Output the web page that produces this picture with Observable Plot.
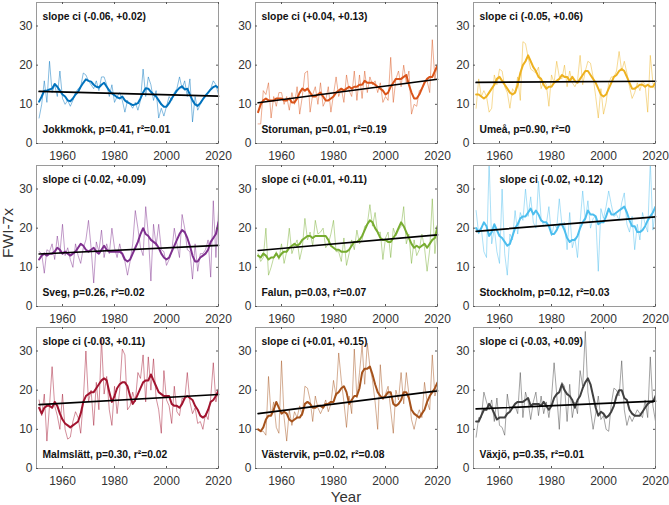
<!DOCTYPE html>
<html><head><meta charset="utf-8">
<script src="https://cdn.jsdelivr.net/npm/d3@7"></script>
<script src="https://cdn.jsdelivr.net/npm/@observablehq/plot@0.6"></script>
<style>
body{margin:0;background:#fff}
#wrap{position:relative;width:669px;height:505px;font-family:"Liberation Sans",Arial,sans-serif;overflow:hidden}
.panel{position:absolute}
#ylab{position:absolute;left:8px;top:233px;transform:translate(-50%,-50%) rotate(-90deg);font-size:15.5px;line-height:1;color:#333;white-space:nowrap}
#xlab{position:absolute;left:346px;top:496px;transform:translate(-50%,-50%);font-size:15px;line-height:1;color:#333}
</style></head>
<body><div id="wrap"><div id="ylab">FWI-7x</div><div id="xlab">Year</div></div>
<script>
const years = d3.range(1951, 2021);
const xTicks = [1960, 1980, 2000, 2020];
const yTicks = [0, 10, 20, 30];
const stations = ["Jokkmokk","Storuman","Umeå","Sveg","Falun","Stockholm","Malmslätt","Västervik","Växjö"];
const slopeCI = ["(-0.06, +0.02)","(+0.04, +0.13)","(-0.05, +0.06)","(-0.02, +0.09)","(+0.01, +0.11)","(-0.02, +0.12)","(-0.03, +0.11)","(+0.01, +0.15)","(-0.03, +0.09)"];
const pValues = ["0.41","0.01","0.90","0.26","0.03","0.12","0.30","0.02","0.35"];
const r2Values = ["0.01","0.19","0","0.02","0.07","0.03","0.02","0.08","0.01"];
const colors = ["#0072BD","#D95319","#EDB120","#7E2F8E","#77AC30","#4DBEEE","#A2142F","#A5521B","#404040"];
const trendStart = [13.3,10.4,15.6,13.4,14.3,19.2,16.3,14.0,15.2];
const trendEnd   = [12.1,16.4,15.9,15.6,18.3,22.9,18.9,19.8,17.2];

const jokkmokkAnnual = [6.5,10,16,10.5,21,13,15,12,18.5,11.5, 10,11,9.5,11,13,14,14.5,18,17.5,16, 15,14,16,13.5,17,17,15,12,15,10.5, 12,13,11,8,11,10,9,10.5,8.5,11, 19,12,17,15,11,13.5,6.5,9,7,9.5, 12,11,13,14,17,14,16,12,16.5,5.5, 12,8.5,10,11.5,12,13,14,16,15,12.5];
const jokkmokkSmooth = [10.7,12,13.5,13.5,13.8,14,15.2,14.5,13.5,12.5, 12,11,10.8,11.5,12.5,13.2,14.5,15.5,16.4,16, 15.8,15,14.5,14.3,15,15.5,14.5,13.5,12.8,12.3, 11.8,11.5,12,11,10.5,10.2,9.8,10,10.3,11.5, 13,14.1,14,13.2,12.5,12,11,10,9.4,9.4, 10.3,11.5,12.5,13.5,14.2,14.6,13.8,14,12.5,11, 10,9.6,10.3,11.3,12.2,13,13.8,14.4,14.7,14.2];
const storumanAnnual = [5,5,13.5,12.5,15.5,6.5,12,9.5,13,13, 10,12,8.5,13,10,14.5,7.5,12,18,18.5, 8,12.5,14.5,10,15.5,9.5,11,14.5,8,12.5, 17,12,14,10.5,17.5,13.5,12,18.5,11,17.5, 11.5,18.5,13,17,15,16,13,15.5,10.5,12, 11,22,10.5,16.5,18.5,14.5,20,15.5,18.5,7.5, 10,9.5,13.5,14,16,16,13,26.5,16.5,20.5];
const storumanSmooth = [8,10,11,11.5,11,11,11,11.5,11.5,11.5, 11,11,11.5,10.5,10.5,11.5,13,14,13.5,14, 13,12,12,12.5,13,12,11,11,11.5,12, 13,13.5,14,13.5,14,14.5,14,14.5,14.5,15, 15,16,15.5,15.5,15.5,15,14.5,14,13.5,12.5, 13,14.5,15.5,16.5,16.5,16.5,17,17.5,15,13, 11.5,11.5,12.5,14,15.5,16.5,17,17,18.5,20];
const umeaAnnual = [9,16.5,12,13.5,12,8,9,17.5,15,19, 18.5,14.5,13,9,14,13,17,11,26,25.5, 22,19,18.5,18,19.5,14,16,15,9.5,17.5, 15.5,21,17,16.5,20,14.5,18.5,15.5,14.5,16, 22.5,15,18.5,21,20.5,17,12,6.5,14,7.5, 10.5,15.5,17,17,18.5,23.5,18.5,21,18,14.5, 11.5,13,15.5,13.5,16,15,8,22.5,15.5,13.5];
const umeaSmooth = [12.5,12.5,12,11.5,12,13,14,15,16.5,17, 16,15,14,13,12.5,13,15,18,20,21, 22.5,21,19.5,18.5,17,16.5,15,14,14.5,14.5, 15.5,16,16.5,17.5,17,17,16,17,16,15.5, 16.5,17.5,18.5,18.5,17.5,16.5,15.5,14,12.5,12, 12.5,14,15.5,17,17.5,18.5,19,18.5,17,15.5, 14,14,14.5,15,15,14.5,15,14.5,14.5,15.5];
const svegAnnual = [14,13.5,8.5,14.5,14,16,12,18,13.5,21, 13,15,12,10,16,13,11,15,17,22, 15,6,16.5,14,19.5,12.5,16,13.5,20,15, 12.5,16,13,11.5,8,11.5,16,24.5,20,15, 13,25.5,18.5,6.5,21,15.5,21,14.5,14,10.5, 12,14,20,16,12.5,23.5,20,14.5,14,7, 16,9,13.5,13.5,14.5,17,7.5,27,12.5,24.5];
const svegSmooth = [12,13,13.5,13,13.5,13.5,14,15,14.5,13.5, 14,13.5,13,13.5,14,15,16,15.5,14.5,14, 14.5,15,14,13.5,14.5,15.5,14.5,14,14,14, 14,14,13.5,12,11.5,12,13.5,15,16.5,18.5, 20,18.5,18,17,16.5,16,15,13.5,12.5,12, 12.5,14,15.5,17,18.5,19.5,19,17.5,15.5,13, 11.5,11.5,12.5,13,13.5,14.5,16.5,17.5,18.5,21.5];
const falunAnnual = [13.5,11.5,12.5,20,8,10,12.5,14,12,16, 11,14,20,13.5,15.5,17,12,15,22.5,17, 19,15.5,22,18.5,19,20,15,16,18.5,22, 14,14,11.5,17.5,10.5,13.5,17,14.5,19.5,16, 17,20.5,21,26,20.5,24,18.5,19,12,17.5, 19,12.5,20,18,19.5,20.5,25.5,16,18.5,11, 17,13,14.5,18.5,15,9,14.5,27.5,13.5,20.5];
const falunSmooth = [13,12.5,13.5,13,12,12.5,12.5,13.5,12.5,13.5, 14,14,15,15.5,16,15.5,16,17,17.5,18, 18,17.5,18,18,18,18,18,17,15.5,15, 14.5,14.5,14,14,14,14.5,15.5,16.5,16.5,17, 18,19.5,21,22,21.5,20,19,17.5,17,17, 16.5,16.5,17.5,18.5,20,21.5,20.5,19,17.5,16, 15,15.5,15,15.5,16,15,16,17,17.5,20.5];
const stockholmAnnual = [24.5,18.5,20,14,12.5,37,16,20,14,11, 30,13.5,8,18.5,17,24.5,18.5,24,22,30, 23,28,21.5,20,32,22.5,20.5,21,25.5,18, 21,20,27.5,21,21.5,14.5,24,15,17.5,12.5, 21.5,29.5,22,27,20,22.5,23,9,25,22.5, 25.5,29.5,26,23,23.5,22,26.5,29,21,19, 23,14.5,21,17,24,21,19,37,19.5,25];
const stockholmSmooth = [20,19,20,21.5,20.5,18,19,21,19.5,18, 17.5,16.5,15.5,16,18,20,21,22.5,23,23, 24,25,23.5,24.5,23.5,22,21.5,21.5,20.5,18.5, 18.5,19.5,21,21,19.5,17.5,16.5,17,17,18, 20,21.5,22.5,24.5,23.5,23.5,23,21,21.5,21.5, 23,25,23.5,23.5,24,24.5,25,25.5,24,22, 20.5,20.5,19,19,19.5,20.5,22,23,24,25.5];
const malmslattAnnual = [17.5,13.5,19,7,16,26,16,13.5,10,19, 10,7.5,8,12,14.5,13,9,17.5,30,17, 20,11,22,15,33,19,23.5,15,11,21, 14,20,30.5,29,15,16,19.5,17,24.5,23, 29,17,28.5,20,28,18,15,9,25,17.5, 16,11.5,21,14.5,13.5,18,17.5,24.5,17,14, 15.5,11.5,12,10,14,12.5,18,27,17,20.5];
const malmslattSmooth = [15.5,14,15.5,16,16,15.5,17,16,14,12.5, 11.5,11,10.5,11,11.5,12,14,17,18.5,19, 19.5,19.5,20.5,21.5,22.5,23,22.5,19.5,17,18.5, 20.5,21.5,22,22,21,18.5,16.5,17.5,19,20.5, 22,22.5,22.5,24,22.5,21,19.5,19,18.5,18.5, 18.5,16.5,16,16,15.5,16.5,18,18.5,18,17.5, 16,15,13.5,13,13.5,15,17,17.5,18.5,20];
const vastervikAnnual = [10,9.5,9.5,8.5,23.5,13.5,17,10.5,9,27.5, 13,7,15,11,14.5,13,16,13.5,21,20.5, 17.5,12,18.5,15.5,14,15.5,17.5,14.5,16.5,22.5, 18.5,29.5,22.5,17,10.5,18.5,14,30.5,18,24.5, 31.5,21.5,32,26,22.5,17,10,26.5,17.5,19, 21,15,9,20,17.5,24.5,16.5,24.5,19,12.5, 10,13,15,13,22,17,15,29,18.5,21];
const vastervikSmooth = [10,9.5,10.5,12.5,13.5,13.5,15,17,15.5,14, 14.5,14,12.5,12,12.5,13,13,14,16.5,17, 16.5,15.5,15.5,16,16,15.5,16.5,16.5,17,17, 19,19.5,20.5,21,19.5,16.5,17.5,18.5,18.5,20.5, 24.5,25.5,25.5,26,24,21.5,19.5,18.5,18,18.5, 19.5,19.5,16.5,16,16.5,17.5,19.5,19.5,18,15, 14,13.5,13,14,15,17,18.5,19.5,20.5,22];
const vaxjoAnnual = [8,13,13,19.5,17,15,17.5,12,18,11, 10.5,8.5,19,14.5,15.5,16,14,24.5,13,19.5, 17,12.5,17,19.5,13.5,18.5,14,17,13,18, 27,19,10,22,21,12,21.5,13,17,14, 25,21,35,19.5,15,10,14,18.5,12.5,13.5, 10,9.5,16.5,20.5,20,18.5,27.5,15,11,13.5, 12,13.5,15,14,13,17.5,13,28.5,16,12];
const vaxjoSmooth = [12,12,13.5,15,15,16.5,15.5,14,12.5,13, 13,13,14,14.5,15.5,16.5,17,17,17,17.5, 18,16,16.5,16.5,16.5,16,17,16,15,16, 18,19,19.5,21.5,20,19,18.5,17.5,15.5,17.5, 18.5,20.5,22,23,21.5,18.5,15.5,13.5,14.5,14, 13,13.5,14.5,16,18.5,20,20,18,17.5,15, 14,13.5,13.5,13.5,14.5,15.5,16.5,17,17,18.5];

const annualSeries = [jokkmokkAnnual,storumanAnnual,umeaAnnual,svegAnnual,falunAnnual,stockholmAnnual,malmslattAnnual,vastervikAnnual,vaxjoAnnual];
const smoothSeries = [jokkmokkSmooth,storumanSmooth,umeaSmooth,svegSmooth,falunSmooth,stockholmSmooth,malmslattSmooth,vastervikSmooth,vaxjoSmooth];

// layout
const FW = 182, FH = 141, ML = 36, MR = 8, MT = 2, MB = 24;
const colLefts = [36, 255, 473.3];
const rowTops = [2, 164.5, 326.5];
const topTextDx = [6,6,6,6,6,26,6,6,6];
const font = '"Liberation Sans", Arial, sans-serif';
const wrap = document.getElementById("wrap");

stations.forEach((name, i) => {
  const annual = years.map((y, j) => ({year: y, v: annualSeries[i][j]}));
  const smooth = years.map((y, j) => ({year: y, v: smoothSeries[i][j]}));
  const trend = [{year: years[0], v: trendStart[i]}, {year: years[years.length - 1], v: trendEnd[i]}];
  const tick = "#555";
  const svg = Plot.plot({
    width: FW + ML + MR, height: FH + MT + MB,
    marginLeft: ML, marginRight: MR, marginTop: MT, marginBottom: MB,
    x: {domain: [1950, 2020]},
    y: {domain: [0, 36]},
    style: {fontFamily: font, fontSize: "12px", color: "#333", background: "transparent", overflow: "visible"},
    marks: [
      Plot.line(annual, {x: "year", y: "v", stroke: colors[i], strokeWidth: 0.8, strokeOpacity: 0.6, clip: true}),
      Plot.line(smooth, {x: "year", y: "v", stroke: colors[i], strokeWidth: 2, clip: true}),
      Plot.line(trend, {x: "year", y: "v", stroke: "black", strokeWidth: 1.7}),
      Plot.frame({stroke: "#9a9a9a"}),
      Plot.tickX(xTicks, {x: d => d, stroke: tick, insetTop: FH - 2}),
      Plot.tickX(xTicks, {x: d => d, stroke: tick, insetBottom: FH - 2}),
      Plot.tickY(yTicks, {y: d => d, stroke: tick, insetRight: FW - 2}),
      Plot.tickY(yTicks, {y: d => d, stroke: tick, insetLeft: FW - 2}),
      Plot.axisX(xTicks, {tickSize: 0, tickPadding: 8, tickFormat: "d", label: null, fontSize: 12, fill: "#333"}),
      Plot.axisY(yTicks, {tickSize: 0, tickPadding: 4, label: null, fontSize: 12, fill: "#333"}),
      Plot.text([`slope ci ${slopeCI[i]}`], {frameAnchor: "top-left", text: d => d, dx: topTextDx[i], dy: 14, lineAnchor: "middle", fontWeight: "bold", fontSize: 10.3, fill: "#111"}),
      Plot.text([`${name}, p=${pValues[i]}, r²=${r2Values[i]}`], {frameAnchor: "bottom-left", text: d => d, dx: 6, dy: -13.5, lineAnchor: "middle", fontWeight: "bold", fontSize: 10.3, fill: "#111"})
    ]
  });
  const div = document.createElement("div");
  div.className = "panel";
  div.style.left = (colLefts[i % 3] - ML) + "px";
  div.style.top = (rowTops[Math.floor(i / 3)] - MT) + "px";
  div.appendChild(svg);
  wrap.appendChild(div);
});
</script>
</body></html>
